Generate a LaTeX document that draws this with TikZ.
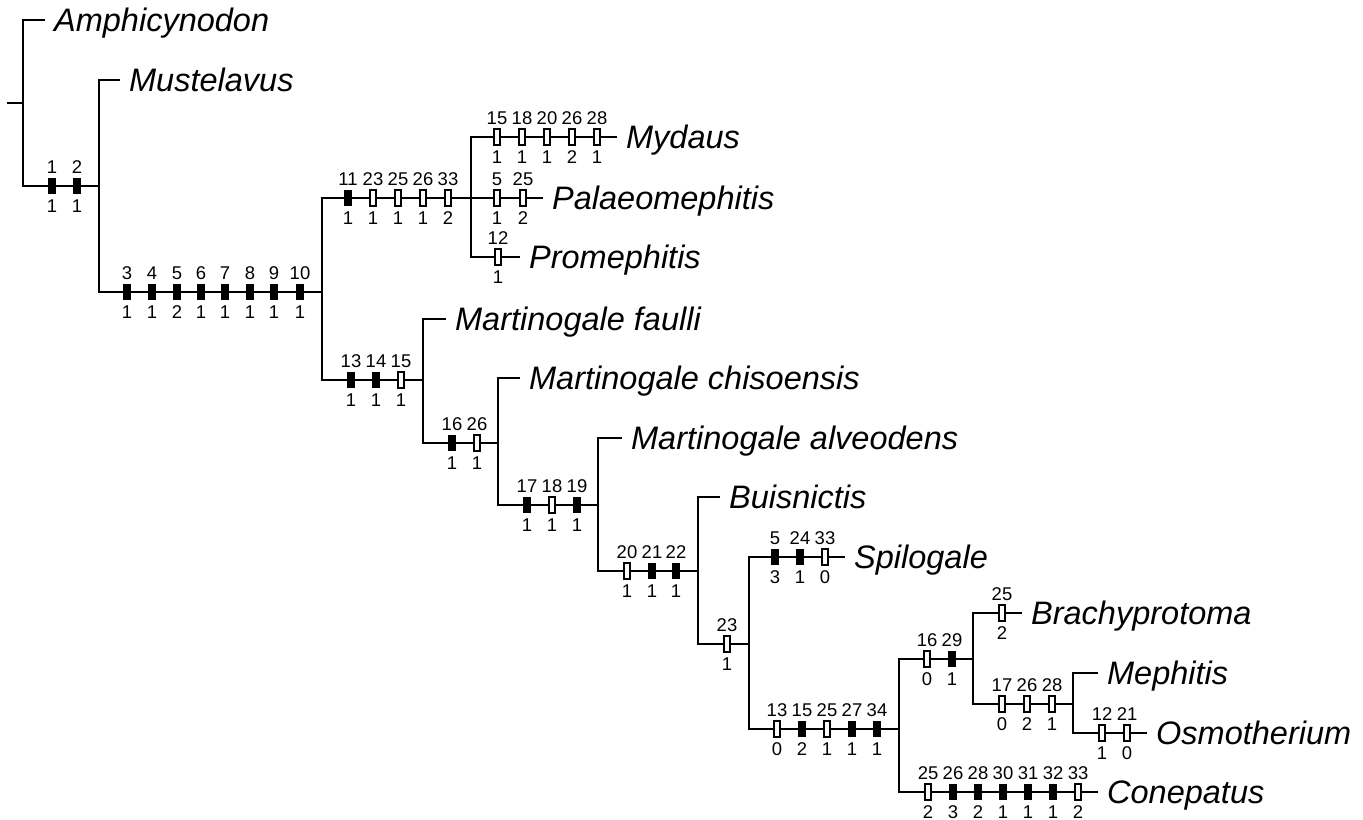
\documentclass[tikz,border=0pt]{standalone}
\usepackage{fontspec}
\setmainfont{Liberation Sans}

\tikzset{
  tree/.style={line width=1.4pt},
  lab/.style={inner sep=0pt, text height=7.5pt, text depth=0pt, font=\fontsize{10.5}{10.5}\selectfont},
  chr/.style={rectangle, inner sep=0pt, minimum width=4pt, minimum height=9.6pt},
  cf/.style 2 args={chr, fill=black,
    label={[lab,label distance=2.1pt]above:#1}, label={[lab,label distance=2.3pt]below:#2}},
  co/.style 2 args={chr, draw=black, fill=white, line width=0.8pt, minimum width=3.4pt, minimum height=9pt,
    label={[lab,label distance=2.1pt]above:#1}, label={[lab,label distance=2.3pt]below:#2}},
  taxon/.style={anchor=west, inner xsep=5pt, inner ysep=0pt, text height=13.2pt, text depth=0pt,
    font=\fontsize{18.5}{18.5}\selectfont\itshape},
}

\begin{document}
\begin{tikzpicture}[x=0.02cm, y=-0.02cm]
\useasboundingbox (0,0) rectangle (1363,820);
% branch points
\coordinate (root) at (7,103);
\coordinate (n1) at (23,103);
\coordinate (n2) at (99,186);
\coordinate (n3) at (322,292);
\coordinate (n4) at (471,198);
\coordinate (n5) at (423,380);
\coordinate (n6) at (498,443);
\coordinate (n7) at (598,505);
\coordinate (n8) at (698,571);
\coordinate (n9) at (749,644);
\coordinate (n10) at (899,729);
\coordinate (n11) at (973,659);
\coordinate (n12) at (1073,704);
% taxa
\node[taxon] (amph) at (45,20) {Amphicynodon};
\node[taxon] (must) at (120,80) {Mustelavus};
\node[taxon] (myd) at (617,137) {Mydaus};
\node[taxon] (pal) at (543,198) {Palaeomephitis};
\node[taxon] (prom) at (520,257) {Promephitis};
\node[taxon] (mfau) at (446,319) {Martinogale faulli};
\node[taxon] (mchi) at (520,378) {Martinogale chisoensis};
\node[taxon] (malv) at (622,438) {Martinogale alveodens};
\node[taxon] (buis) at (720,497) {Buisnictis};
\node[taxon] (spil) at (845,557) {Spilogale};
\node[taxon] (brach) at (1022,613) {Brachyprotoma};
\node[taxon] (meph) at (1098,673) {Mephitis};
\node[taxon] (osmo) at (1147,733) {Osmotherium};
\node[taxon] (cone) at (1098,792) {Conepatus};
% tree
\draw[tree] (root) -- (n1);
\draw[tree] (n1) |- (amph);
\draw[tree] (n1) |- (n2);
\draw[tree] (n2) |- (must);
\draw[tree] (n2) |- (n3);
\draw[tree] (n3) |- (n4);
\draw[tree] (n3) |- (n5);
\draw[tree] (n4) |- (myd);
\draw[tree] (n4) -- (pal);
\draw[tree] (n4) |- (prom);
\draw[tree] (n5) |- (mfau);
\draw[tree] (n5) |- (n6);
\draw[tree] (n6) |- (mchi);
\draw[tree] (n6) |- (n7);
\draw[tree] (n7) |- (malv);
\draw[tree] (n7) |- (n8);
\draw[tree] (n8) |- (buis);
\draw[tree] (n8) |- (n9);
\draw[tree] (n9) |- (spil);
\draw[tree] (n9) |- (n10);
\draw[tree] (n10) |- (n11);
\draw[tree] (n10) |- (cone);
\draw[tree] (n11) |- (brach);
\draw[tree] (n11) |- (n12);
\draw[tree] (n12) |- (meph);
\draw[tree] (n12) |- (osmo);
% characters
\node[cf={1}{1}] (c1) at (52,186) {};
\node[cf={2}{1}] (c2) at (77,186) {};
\node[cf={3}{1}] (c3) at (127,292) {};
\node[cf={4}{1}] (c4) at (152,292) {};
\node[cf={5}{2}] (c5) at (177,292) {};
\node[cf={6}{1}] (c6) at (201,292) {};
\node[cf={7}{1}] (c7) at (225,292) {};
\node[cf={8}{1}] (c8) at (250,292) {};
\node[cf={9}{1}] (c9) at (274,292) {};
\node[cf={10}{1}] (c10) at (300,292) {};
\node[cf={11}{1}] (c11) at (348,198) {};
\node[co={23}{1}] (c12) at (373,198) {};
\node[co={25}{1}] (c13) at (398,198) {};
\node[co={26}{1}] (c14) at (423,198) {};
\node[co={33}{2}] (c15) at (448,198) {};
\node[co={15}{1}] (c16) at (497,137) {};
\node[co={18}{1}] (c17) at (522,137) {};
\node[co={20}{1}] (c18) at (547,137) {};
\node[co={26}{2}] (c19) at (572,137) {};
\node[co={28}{1}] (c20) at (597,137) {};
\node[co={5}{1}] (c21) at (497,198) {};
\node[co={25}{2}] (c22) at (523,198) {};
\node[co={12}{1}] (c23) at (498,257) {};
\node[cf={13}{1}] (c24) at (351,380) {};
\node[cf={14}{1}] (c25) at (376,380) {};
\node[co={15}{1}] (c26) at (401,380) {};
\node[cf={16}{1}] (c27) at (452,443) {};
\node[co={26}{1}] (c28) at (477,443) {};
\node[cf={17}{1}] (c29) at (527,505) {};
\node[co={18}{1}] (c30) at (552,505) {};
\node[cf={19}{1}] (c31) at (577,505) {};
\node[co={20}{1}] (c32) at (627,571) {};
\node[cf={21}{1}] (c33) at (652,571) {};
\node[cf={22}{1}] (c34) at (676,571) {};
\node[co={23}{1}] (c35) at (727,644) {};
\node[cf={5}{3}] (c36) at (775,557) {};
\node[cf={24}{1}] (c37) at (800,557) {};
\node[co={33}{0}] (c38) at (825,557) {};
\node[co={13}{0}] (c39) at (777,729) {};
\node[cf={15}{2}] (c40) at (802,729) {};
\node[co={25}{1}] (c41) at (827,729) {};
\node[cf={27}{1}] (c42) at (852,729) {};
\node[cf={34}{1}] (c43) at (877,729) {};
\node[co={16}{0}] (c44) at (927,659) {};
\node[cf={29}{1}] (c45) at (952,659) {};
\node[co={25}{2}] (c46) at (1002,613) {};
\node[co={17}{0}] (c47) at (1002,704) {};
\node[co={26}{2}] (c48) at (1027,704) {};
\node[co={28}{1}] (c49) at (1052,704) {};
\node[co={12}{1}] (c50) at (1102,733) {};
\node[co={21}{0}] (c51) at (1127,733) {};
\node[co={25}{2}] (c52) at (928,792) {};
\node[cf={26}{3}] (c53) at (953,792) {};
\node[cf={28}{2}] (c54) at (978,792) {};
\node[cf={30}{1}] (c55) at (1003,792) {};
\node[cf={31}{1}] (c56) at (1028,792) {};
\node[cf={32}{1}] (c57) at (1053,792) {};
\node[co={33}{2}] (c58) at (1078,792) {};
\end{tikzpicture}
\end{document}
